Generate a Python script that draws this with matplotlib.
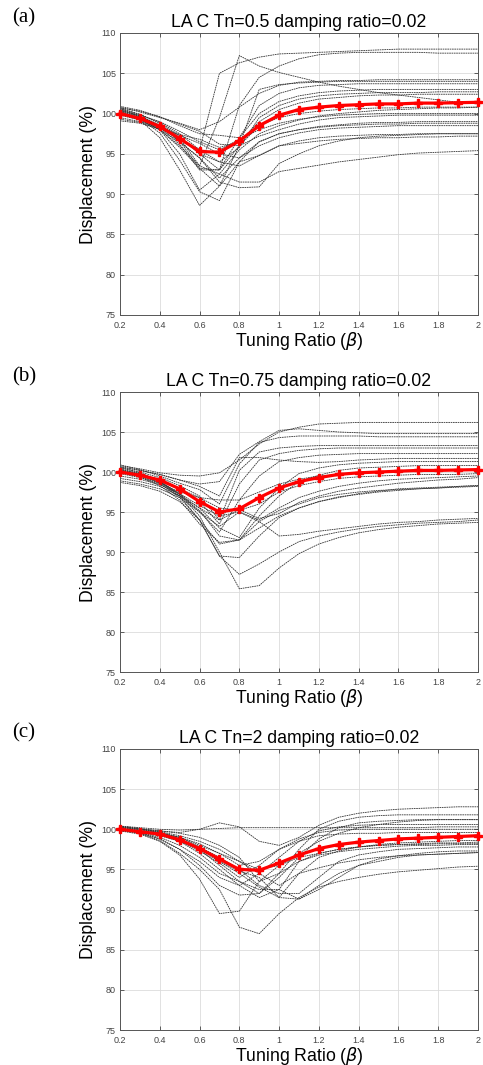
import matplotlib
matplotlib.use("Agg")
import matplotlib.pyplot as plt

plt.rcParams['font.family'] = ['Liberation Sans', 'DejaVu Sans']
plt.rcParams['mathtext.fontset'] = 'dejavusans'

x = [0.2, 0.3, 0.4, 0.5, 0.6, 0.7, 0.8, 0.9, 1.0, 1.1, 1.2, 1.3, 1.4, 1.5, 1.6, 1.7, 1.8, 1.9, 2.0]
xticks = [0.2, 0.4, 0.6, 0.8, 1.0, 1.2, 1.4, 1.6, 1.8, 2.0]
xticklabels = ["0.2", "0.4", "0.6", "0.8", "1", "1.2", "1.4", "1.6", "1.8", "2"]
yticks = [75, 80, 85, 90, 95, 100, 105, 110]

titles = ["LA C Tn=0.5 damping ratio=0.02",
          "LA C Tn=0.75 damping ratio=0.02",
          "LA C Tn=2 damping ratio=0.02"]
panel_labels = ["(a)", "(b)", "(c)"]

mean_a = [100.0, 99.4, 98.4, 96.9, 95.3, 95.2, 96.6, 98.5, 99.8, 100.5, 100.8, 101.0, 101.1, 101.2, 101.2, 101.3, 101.3, 101.35, 101.4]
mean_b = [100.0, 99.6, 99.0, 97.9, 96.3, 95.0, 95.4, 96.8, 98.0, 98.8, 99.3, 99.7, 99.9, 100.0, 100.1, 100.2, 100.2, 100.25, 100.3]
mean_c = [100.0, 99.7, 99.4, 98.7, 97.6, 96.3, 95.0, 94.9, 95.8, 96.8, 97.6, 98.1, 98.4, 98.6, 98.8, 98.9, 99.0, 99.1, 99.2]

curves_a = [
    [100.8, 100.2, 99.5, 98.8, 98.0, 99.0, 100.8, 102.5, 103.5, 103.9, 104.0, 104.1, 104.1, 104.2, 104.2, 104.2, 104.2, 104.2, 104.2],
    [100.6, 99.9, 98.9, 97.5, 95.5, 105.0, 106.3, 107.0, 107.4, 107.5, 107.6, 107.7, 107.8, 107.9, 108.0, 108.0, 108.0, 108.0, 108.0],
    [100.4, 99.7, 98.6, 97.0, 93.5, 99.5, 107.2, 105.9, 105.1, 104.5, 103.9, 103.4, 103.0, 102.6, 102.3, 102.0, 101.7, 101.4, 101.2],
    [100.7, 99.9, 98.8, 97.2, 95.0, 93.0, 101.0, 104.5, 105.9, 106.8, 107.3, 107.5, 107.6, 107.6, 107.6, 107.6, 107.5, 107.5, 107.5],
    [100.3, 99.6, 98.5, 96.6, 93.2, 91.0, 96.0, 103.0, 103.6, 103.8, 103.9, 104.0, 104.0, 104.0, 104.0, 104.0, 104.0, 104.0, 104.0],
    [100.2, 99.5, 98.3, 96.2, 93.0, 93.0, 97.0, 101.0, 102.5, 103.2, 103.5, 103.6, 103.7, 103.7, 103.7, 103.7, 103.7, 103.7, 103.7],
    [100.9, 100.4, 99.6, 98.5, 97.5, 97.3, 97.0, 100.0, 101.5, 102.2, 102.6, 102.8, 102.9, 103.0, 103.0, 103.0, 103.0, 103.0, 103.0],
    [100.1, 99.4, 98.2, 96.8, 95.5, 94.0, 95.8, 99.5, 101.0, 101.8, 102.2, 102.4, 102.5, 102.6, 102.6, 102.6, 102.7, 102.7, 102.7],
    [99.9, 99.3, 98.4, 97.4, 96.8, 95.8, 96.5, 99.0, 100.5, 101.3, 101.8, 102.0, 102.2, 102.3, 102.3, 102.4, 102.4, 102.4, 102.4],
    [99.8, 99.2, 98.0, 96.0, 93.5, 92.5, 95.5, 97.5, 98.5, 99.2, 99.7, 100.0, 100.2, 100.4, 100.5, 100.6, 100.7, 100.7, 100.8],
    [100.0, 99.3, 98.0, 95.8, 93.2, 93.0, 96.0, 97.2, 98.0, 98.7, 99.2, 99.5, 99.6, 99.7, 99.8, 99.8, 99.8, 99.8, 99.8],
    [99.5, 99.0, 98.3, 97.3, 96.3, 95.0, 94.5, 96.5, 97.5, 98.0, 98.4, 98.6, 98.8, 98.9, 98.9, 99.0, 99.0, 99.0, 99.0],
    [99.3, 98.9, 98.0, 96.5, 94.5, 92.0, 94.5, 96.0, 97.0, 97.6, 98.0, 98.2, 98.3, 98.4, 98.5, 98.5, 98.5, 98.5, 98.5],
    [99.1, 98.8, 98.1, 97.0, 95.0, 94.0, 93.5, 94.8, 96.0, 96.3, 96.6, 96.8, 96.9, 97.0, 97.0, 97.1, 97.1, 97.2, 97.2],
    [100.5, 99.6, 98.0, 95.0, 90.5, 92.5, 91.5, 91.5, 92.8, 93.2, 93.6, 94.0, 94.3, 94.6, 94.9, 95.1, 95.2, 95.3, 95.4],
    [100.0, 99.2, 97.0, 93.0, 88.6, 91.0, 94.0, 96.5, 97.5, 98.0, 98.3, 98.5, 98.6, 98.7, 98.7, 98.8, 98.8, 98.8, 98.8],
    [100.3, 99.4, 97.6, 94.2, 90.3, 89.2, 94.0, 94.8, 96.0, 96.6, 97.0, 97.2, 97.3, 97.4, 97.4, 97.5, 97.5, 97.5, 97.5],
    [100.6, 99.7, 98.5, 96.5, 94.5, 91.5, 90.8, 90.9, 93.8, 95.0, 96.0, 96.6, 97.0, 97.2, 97.3, 97.4, 97.5, 97.5, 97.5],
    [100.4, 99.8, 99.0, 97.8, 96.5, 95.5, 96.8, 98.0, 98.8, 99.3, 99.6, 99.8, 99.9, 100.0, 100.0, 100.0, 100.0, 100.0, 100.0],
    [100.7, 100.3, 99.6, 98.7, 97.8, 96.2, 96.0, 98.5, 99.5, 100.0, 100.3, 100.5, 100.6, 100.7, 100.7, 100.8, 100.8, 100.8, 100.8],
]

curves_b = [
    [100.8, 100.4, 99.9, 99.6, 99.5, 99.9, 101.5, 103.5, 105.0, 105.6, 106.0, 106.1, 106.2, 106.2, 106.2, 106.2, 106.2, 106.2, 106.2],
    [100.6, 100.2, 99.7, 99.0, 98.5, 98.8, 102.2, 103.8, 105.2, 105.4, 105.2, 105.0, 104.9, 104.8, 104.8, 104.8, 104.8, 104.8, 104.8],
    [100.9, 100.3, 99.5, 98.6, 97.8, 96.0, 101.0, 103.7, 104.3, 104.5, 104.5, 104.5, 104.5, 104.4, 104.4, 104.4, 104.4, 104.4, 104.4],
    [100.5, 100.0, 99.3, 98.3, 97.0, 94.0, 100.2, 102.5, 103.0, 103.2, 103.3, 103.3, 103.3, 103.3, 103.3, 103.3, 103.3, 103.3, 103.3],
    [100.3, 99.8, 99.0, 97.8, 96.3, 93.5, 98.5, 101.5, 102.3, 102.7, 102.9, 103.0, 103.0, 103.0, 103.0, 103.0, 103.0, 103.0, 103.0],
    [100.7, 100.2, 99.7, 99.0, 98.2, 97.0, 101.8, 101.8, 101.5, 101.3, 101.2, 101.3, 101.5, 101.6, 101.7, 101.7, 101.7, 101.7, 101.7],
    [100.2, 99.7, 98.8, 97.3, 95.0, 92.5, 96.5, 99.5, 101.3, 101.8, 102.1, 102.2, 102.3, 102.3, 102.3, 102.3, 102.3, 102.3, 102.3],
    [100.0, 99.5, 98.7, 97.2, 95.5, 93.0, 91.8, 95.5, 98.0, 99.8, 100.5, 100.9, 101.1, 101.2, 101.3, 101.3, 101.3, 101.3, 101.3],
    [99.8, 99.3, 98.5, 97.0, 95.2, 92.0, 91.5, 94.5, 97.0, 98.8, 99.6, 100.2, 100.5, 100.6, 100.7, 100.8, 100.8, 100.8, 100.8],
    [99.9, 99.4, 98.6, 97.5, 96.8, 96.5, 96.5, 97.5, 98.5, 99.1, 99.5, 99.7, 99.9, 100.0, 100.1, 100.2, 100.2, 100.2, 100.2],
    [100.1, 99.6, 98.9, 97.9, 96.8, 95.5, 95.2, 96.0, 97.5, 98.3, 98.8, 99.2, 99.4, 99.5, 99.6, 99.7, 99.7, 99.7, 99.8],
    [99.5, 99.1, 98.4, 97.3, 95.8, 94.5, 95.0, 94.0, 95.5, 96.8, 97.6, 98.2, 98.6, 98.9, 99.1, 99.2, 99.3, 99.4, 99.5],
    [99.2, 98.8, 98.2, 97.0, 95.5, 94.0, 95.3, 94.2, 94.8, 96.2, 97.0, 97.6, 98.0, 98.3, 98.6, 98.8, 99.0, 99.1, 99.3],
    [98.9, 98.5, 97.9, 96.8, 95.0, 93.2, 95.0, 93.8, 95.2, 96.0, 96.8, 97.2, 97.5, 97.7, 97.8, 97.9, 98.0, 98.1, 98.2],
    [98.7, 98.3, 97.6, 96.3, 94.0, 91.0, 91.5, 93.0, 94.5, 95.5, 96.3, 96.8, 97.3, 97.6, 97.9, 98.0, 98.1, 98.2, 98.3],
    [100.4, 99.8, 98.8, 97.0, 94.0, 89.5, 89.3, 92.0, 94.3, 95.5, 96.3, 96.9, 97.2, 97.5, 97.7, 97.9, 98.0, 98.2, 98.3],
    [100.0, 99.4, 98.3, 96.5, 93.5, 91.2, 91.5, 93.8, 92.0, 92.2, 92.6, 92.9, 93.2, 93.5, 93.7, 93.8, 94.0, 94.1, 94.2],
    [100.3, 99.7, 98.6, 96.8, 94.0, 89.5, 87.2, 88.5, 90.0, 91.3, 92.0, 92.5, 92.9, 93.2, 93.4, 93.6, 93.7, 93.8, 94.0],
    [100.6, 99.9, 98.9, 97.2, 94.5, 90.0, 85.4, 85.8, 88.0, 89.8, 91.0, 91.8, 92.4, 92.8, 93.1, 93.3, 93.5, 93.6, 93.7],
]

curves_c = [
    [100.3, 100.1, 99.8, 99.6, 100.0, 100.8, 100.3, 98.5, 98.0, 99.0, 100.5, 101.5, 102.0, 102.3, 102.5, 102.6, 102.7, 102.8, 102.8],
    [100.4, 100.2, 100.0, 99.9, 100.0, 100.1, 100.2, 100.2, 100.2, 100.2, 100.2, 100.2, 100.2, 100.2, 100.2, 100.2, 100.3, 100.3, 100.3],
    [100.2, 100.0, 99.8, 99.5, 99.0, 98.0, 96.5, 93.5, 94.5, 97.5, 100.0, 101.0, 101.5, 101.7, 101.8, 101.8, 101.8, 101.8, 101.8],
    [100.0, 99.8, 99.5, 98.8, 97.5, 95.5, 93.5, 92.0, 94.0, 96.5, 98.8, 100.2, 100.8, 101.0, 101.1, 101.2, 101.2, 101.2, 101.2],
    [100.3, 100.0, 99.7, 99.2, 98.5, 97.5, 96.0, 94.5, 96.5, 98.5, 99.8, 100.3, 100.5, 100.6, 100.6, 100.6, 100.6, 100.6, 100.6],
    [99.9, 99.7, 99.5, 99.0, 98.2, 97.0, 95.5, 96.0, 97.5, 98.8, 99.6, 99.9, 100.0, 100.0, 100.0, 100.0, 100.0, 100.0, 100.0],
    [99.8, 99.6, 99.2, 98.5, 97.3, 95.8, 94.0, 95.5, 97.5, 98.5, 99.2, 99.4, 99.5, 99.5, 99.6, 99.6, 99.6, 99.6, 99.6],
    [100.1, 99.9, 99.6, 99.0, 97.8, 96.0, 94.5, 92.8, 91.5, 94.5, 96.5, 97.3, 97.8, 98.1, 98.3, 98.4, 98.5, 98.6, 98.6],
    [100.2, 99.8, 99.3, 98.5, 97.0, 95.0, 93.0, 91.5, 92.5, 96.0, 97.0, 97.5, 97.8, 98.0, 98.1, 98.1, 98.2, 98.2, 98.2],
    [100.0, 99.7, 99.3, 98.7, 97.8, 96.5, 95.0, 93.0, 92.0, 92.0, 94.0, 96.0, 96.8, 97.2, 97.5, 97.6, 97.7, 97.8, 97.8],
    [99.9, 99.6, 99.0, 98.0, 96.5, 94.5, 93.5, 92.5, 92.5, 91.3, 92.5, 94.0, 95.5, 96.3, 96.7, 97.0, 97.2, 97.3, 97.3],
    [100.4, 100.1, 99.6, 98.8, 97.5, 96.0, 94.8, 94.0, 91.5, 91.3, 93.0, 94.5, 95.5, 96.0, 96.5, 96.8, 96.9, 97.0, 97.1],
    [100.0, 99.6, 98.8, 97.5, 95.5, 93.0, 91.8, 92.0, 94.5, 96.0, 96.8, 97.2, 97.5, 97.7, 97.9, 98.0, 98.0, 98.1, 98.1],
    [99.8, 99.4, 98.5, 96.8, 93.8, 89.5, 89.8, 93.5, 95.5, 96.5, 97.0, 97.5, 97.8, 98.0, 98.1, 98.2, 98.3, 98.3, 98.4],
    [100.1, 99.5, 98.6, 97.0, 95.0, 92.5, 87.8, 87.0, 89.5, 91.5, 92.8, 93.5, 94.0, 94.4, 94.7, 94.9, 95.1, 95.3, 95.4],
    [99.9, 99.5, 98.8, 97.5, 96.0, 94.0, 93.0, 94.5, 93.0, 94.5, 95.2, 95.8, 96.2, 96.5, 96.7, 96.8, 96.9, 97.0, 97.1],
    [100.3, 100.0, 99.6, 99.0, 98.0, 97.0, 96.0, 95.0, 95.5, 97.0, 98.5, 99.5, 100.2, 100.6, 100.9, 101.1, 101.2, 101.2, 101.2],
]

W, H = 483, 1065
fig = plt.figure(figsize=(W / 100, H / 100), dpi=100)

# axes boxes in pixels: (left, top, right, bottom)
boxes = [(120, 33, 478, 315), (120, 392, 478, 672), (120, 749, 478, 1030)]
label_y = [18, 377, 733]
data = [(curves_a, mean_a), (curves_b, mean_b), (curves_c, mean_c)]

for i, ((l, t, r, b), (curves, mean)) in enumerate(zip(boxes, data)):
    ax = fig.add_axes([l / W, 1 - b / H, (r - l) / W, (b - t) / H])
    for c in curves:
        ax.plot(x, c, color='#333333', lw=0.6, ls=(0, (2.0, 0.8)), zorder=2)
    ax.plot(x, mean, color='#ff0000', lw=2.3, marker='P', ms=6,
            mec='#ff0000', mfc='#ff0000', zorder=3, clip_on=False)
    ax.set_xlim(0.2, 2.0)
    ax.set_ylim(75, 110)
    ax.set_xticks(xticks)
    ax.set_xticklabels(xticklabels)
    ax.set_yticks(yticks)
    ax.grid(True, color='#dcdcdc', lw=0.6)
    ax.set_axisbelow(True)
    ax.tick_params(direction='in', length=3, width=0.6, top=True, right=True,
                   labelsize=6.5, labelcolor='#444444', color='#444444')
    ax.tick_params(axis='x', pad=4)
    ax.tick_params(axis='y', pad=3)
    for sp in ax.spines.values():
        sp.set_color('#555555')
        sp.set_linewidth(0.7)
    ax.set_title(titles[i], fontsize=12.7, pad=4)
    ax.set_xlabel(r'Tuning Ratio ($\mathit{\beta}$)', fontsize=12.7, labelpad=0)
    ax.set_ylabel('Displacement (%)', fontsize=12.7, labelpad=3)
    fig.text(12 / W, 1 - label_y[i] / H, panel_labels[i], fontsize=15,
             family='Liberation Serif', va='center', ha='left')

fig.savefig('out.png', dpi=100)
